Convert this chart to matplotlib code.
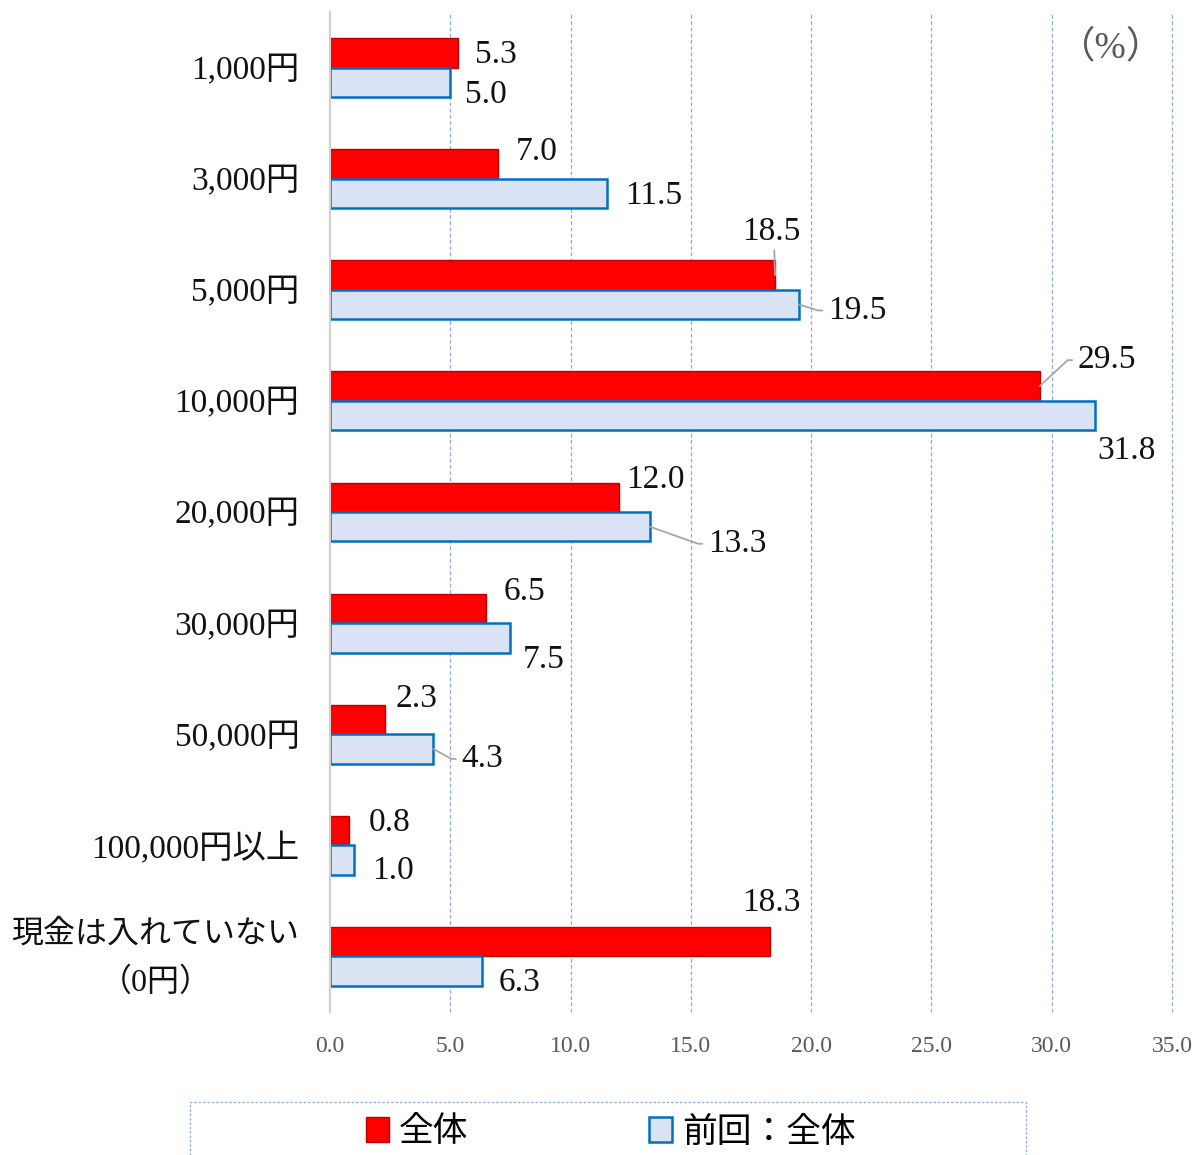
import matplotlib
matplotlib.use("Agg")
import matplotlib.pyplot as plt
from matplotlib.patches import Rectangle
from matplotlib.transforms import ScaledTranslation
import numpy as np

# Data
categories = ["1,000円", "3,000円", "5,000円", "10,000円", "20,000円",
              "30,000円", "50,000円", "100,000円以上", "現金は入れていない\n（0円）"]
current = [5.3, 7.0, 18.5, 29.5, 12.0, 6.5, 2.3, 0.8, 18.3]
previous = [5.0, 11.5, 19.5, 31.8, 13.3, 7.5, 4.3, 1.0, 6.3]
series_names = ["全体", "前回：全体"]
xticks = [0, 5, 10, 15, 20, 25, 30, 35]

# Label placement (pixel offsets from the bar end) and leader-line style
# leader: None, "side" (elbow into the label's left edge) or "below" (into the label's bottom)
cur_off = [(17, -2), (17, 12), (-33, 43), (38, 26), (7, 18), (17, 17), (10, 21), (20, 8), (-28, 39)]
cur_lead = [None, None, "below", "side", None, None, None, None, None]
prev_off = [(15, -12), (18, -2), (29, -6), (2, -35), (58, -17), (12, -22), (28, -10), (18, -11), (17, -12)]
prev_lead = [None, None, "side", None, "side", None, "side", None, None]

SERIF_JP = ["Liberation Serif", "Noto Sans CJK JP"]
plt.rcParams["font.family"] = SERIF_JP

W, H = 1195, 1155
fig = plt.figure(figsize=(W / 100, H / 100), dpi=100)
ax = fig.add_axes([330 / W, 1 - 1012 / H, (1172 - 330) / W, 1000 / H])

y = np.arange(len(categories))
h = 0.265
red_face, red_edge = "#FF0000", "#C00000"
blue_face, blue_edge = "#DAE3F3", "#0070C0"

b1 = ax.barh(y - h / 2, current, height=h, color=red_face, edgecolor=red_edge,
             linewidth=1.0, label=series_names[0], zorder=3)
b2 = ax.barh(y + h / 2, previous, height=h, color=blue_face, edgecolor=blue_edge,
             linewidth=1.8, label=series_names[1], zorder=3)

def put_labels(vals, ypos, offs, leads):
    for v, yy, (dx, dy), lead in zip(vals, ypos, offs, leads):
        kw = {}
        if lead == "side":
            kw["arrowprops"] = dict(arrowstyle="-", color="#A6A6A6", lw=1.3,
                                    shrinkA=2, shrinkB=0,
                                    connectionstyle="arc,angleA=180,armA=10,angleB=0,armB=0,rad=0",
                                    relpos=(0, 0.5))
        elif lead == "below":
            kw["arrowprops"] = dict(arrowstyle="-", color="#A6A6A6", lw=1.3,
                                    shrinkA=0, shrinkB=0, relpos=(0.55, 0.0))
        ax.annotate(f"{v:.1f}", xy=(v, yy), xytext=(dx, dy), textcoords="offset pixels",
                    ha="left", va="center", fontsize=24, color="#111111",
                    family=SERIF_JP, zorder=5, **kw)

put_labels(current, y - h / 2, cur_off, cur_lead)
put_labels(previous, y + h / 2, prev_off, prev_lead)

ax.set_xlim(0, 35)
ax.set_ylim(len(categories) - 0.5, -0.5)
ax.set_xticks(xticks)
ax.set_xticklabels([f"{t:.1f}" for t in xticks], fontsize=17, color="#595959")
ax.tick_params(axis="x", length=0, pad=17)
ax.set_yticks(y)
ax.set_yticklabels(categories, fontsize=24, color="#111111", multialignment="center",
                   linespacing=1.75)
ax.tick_params(axis="y", length=0, pad=22)
last = ax.get_yticklabels()[-1]
last.set_fontsize(23)
last.set_transform(last.get_transform() + ScaledTranslation(0, 0.1, fig.dpi_scale_trans))

# vertical gridlines (drawn unclipped so the one at the right limit shows fully)
for t in xticks[1:]:
    ax.axvline(t, color="#8FAADC", linestyle=(0, (3, 2)), linewidth=0.9, zorder=0, clip_on=False)
for s in ["top", "right", "bottom"]:
    ax.spines[s].set_visible(False)
ax.spines["left"].set_color("#D0D0D0")
ax.spines["left"].set_linewidth(1.5)
ax.spines["left"].set_zorder(4)

ax.text(0.9276, 0.964, "（%）", transform=ax.transAxes, ha="center",
        va="center", fontsize=27, color="#595959")

# legend: dashed box plus a frameless centred legend inside it
fig.patches.append(Rectangle((190 / W, -0.01), (1026 - 190) / W, 0.01 + (H - 1102) / H,
                             transform=fig.transFigure, fill=False, edgecolor="#8FAADC",
                             linestyle=(0, (2, 1.5)), linewidth=0.9))
leg = fig.legend(handles=[b1, b2], labels=series_names, loc="center",
                 bbox_to_anchor=(611 / W, 1 - 1133 / H), ncol=2, fontsize=25,
                 frameon=False, handlelength=0.65, handleheight=0.7, handletextpad=0.3,
                 borderpad=0, columnspacing=5.2)

fig.savefig("out.png", dpi=100)
